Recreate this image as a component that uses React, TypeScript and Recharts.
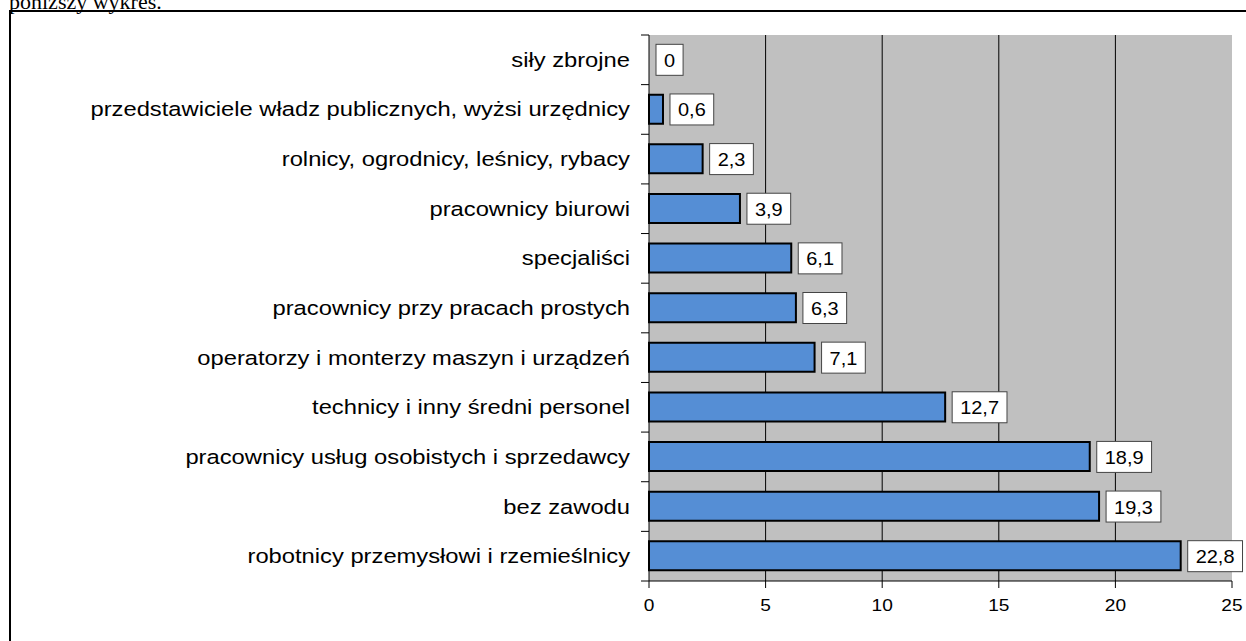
import React from "react";
import { ComposedChart, Bar, Scatter, XAxis, YAxis, CartesianGrid } from "recharts";

const CATEGORIES = [
  "siły zbrojne",
  "przedstawiciele władz publicznych, wyżsi urzędnicy",
  "rolnicy, ogrodnicy, leśnicy, rybacy",
  "pracownicy biurowi",
  "specjaliści",
  "pracownicy przy pracach prostych",
  "operatorzy i monterzy maszyn i urządzeń",
  "technicy i inny średni  personel",
  "pracownicy usług osobistych i sprzedawcy",
  "bez zawodu",
  "robotnicy przemysłowi i rzemieślnicy",
];
const VALUES = [0, 0.6, 2.3, 3.9, 6.1, 6.3, 7.1, 12.7, 18.9, 19.3, 22.8];
const X_TICKS = [0, 5, 10, 15, 20, 25];
const X_DOMAIN = [0, 25];
const GRID_VALUES = [5, 10, 15, 20];

const data = CATEGORIES.map((name, i) => ({ name, value: VALUES[i] }));

const W = 1246;
const H = 641;
const MARGIN = { top: 35, right: 14, bottom: 30, left: 0 };
const Y_AXIS_W = 649;
const X_AXIS_H = 30;
const PLOT_H = H - MARGIN.top - MARGIN.bottom - X_AXIS_H;
const BAND = PLOT_H / CATEGORIES.length;
const FONT = "'Liberation Sans', Arial, sans-serif";

const CatTick = (props: any) => {
  const { y, payload, index } = props;
  const ax = Y_AXIS_W;
  return (
    <g>
      <line x1={ax - 8} x2={ax} y1={y - BAND / 2} y2={y - BAND / 2} stroke="#000" strokeWidth={1} />
      {index === CATEGORIES.length - 1 && (
        <line x1={ax - 8} x2={ax} y1={y + BAND / 2} y2={y + BAND / 2} stroke="#000" strokeWidth={1} />
      )}
      <text
        transform={`translate(${ax - 19},${y + 7}) scale(1.17,1)`}
        textAnchor="end"
        fontSize={20.3}
        fontFamily={FONT}
        fill="#000"
      >
        {payload.value}
      </text>
    </g>
  );
};

const XTick = (props: any) => {
  const { x, y, payload } = props;
  return (
    <text
      transform={`translate(${x},${y + 21}) scale(1.16,1)`}
      textAnchor="middle"
      fontSize={16.5}
      fontFamily={FONT}
      fill="#000"
    >
      {payload.value}
    </text>
  );
};

const ValueBox = (props: any) => {
  const { cx, cy, payload } = props;
  if (cx == null || cy == null) return <g />;
  const txt = String(payload.value).replace(".", ",");
  const fs = 19;
  let tw = 0;
  for (const ch of txt) tw += ch === "," ? 0.278 * fs : 0.556 * fs;
  tw *= 1.05;
  const bw = tw + 16;
  const bh = 31;
  const bx = cx + 7;
  const by = cy - bh / 2;
  return (
    <g>
      <rect x={bx} y={by} width={bw} height={bh} fill="#fff" stroke="#444" strokeWidth={1} />
      <text
        transform={`translate(${bx + bw / 2},${cy + 7}) scale(1.05,1)`}
        textAnchor="middle"
        fontSize={fs}
        fontFamily={FONT}
        fill="#000"
      >
        {txt}
      </text>
    </g>
  );
};

const gridGen = (args: any) => {
  const { xAxis, offset } = args || {};
  return GRID_VALUES.map((v) => {
    const sc = xAxis && xAxis.scale;
    if (typeof sc === "function") return sc(v);
    if (sc && typeof sc.map === "function") return sc.map(v);
    return offset.left + ((v - X_DOMAIN[0]) / (X_DOMAIN[1] - X_DOMAIN[0])) * offset.width;
  });
};

export default function App() {
  return (
    <div style={{ position: "absolute", left: 0, top: 0, width: W, height: H, overflow: "hidden", background: "#fff" }}>
      <div
        style={{
          position: "absolute",
          left: 9,
          top: -9.5,
          fontFamily: "'Liberation Serif', 'Times New Roman', serif",
          fontSize: 22,
          lineHeight: "22px",
          whiteSpace: "nowrap",
          color: "#000",
        }}
      >
        poniższy wykres.
      </div>
      <div
        style={{
          position: "absolute",
          left: 9,
          top: 10,
          width: W,
          height: H,
          borderLeft: "2px solid #000",
          borderTop: "2px solid #000",
        }}
      />
      <div style={{ position: "absolute", left: 0, top: 0 }}>
        <ComposedChart width={W} height={H} data={data} layout="vertical" margin={MARGIN} barSize={29}>
          <CartesianGrid
            fill="#c0c0c0"
            fillOpacity={1}
            horizontal={false}
            stroke="#000"
            strokeWidth={1}
            verticalCoordinatesGenerator={gridGen}
          />
          <XAxis
            type="number"
            domain={X_DOMAIN}
            ticks={X_TICKS}
            interval={0}
            height={X_AXIS_H}
            tickSize={7}
            tickMargin={2}
            axisLine={{ stroke: "#000", strokeWidth: 1 }}
            tickLine={{ stroke: "#000", strokeWidth: 1 }}
            tick={(p: any) => <XTick {...p} />}
          />
          <YAxis
            type="category"
            dataKey="name"
            width={Y_AXIS_W}
            interval={0}
            axisLine={{ stroke: "#000", strokeWidth: 1 }}
            tickLine={false}
            tick={(p: any) => <CatTick {...p} />}
          />
          <Bar dataKey="value" fill="#558ed5" stroke="#000" strokeWidth={2} isAnimationActive={false} />
          <Scatter dataKey="value" isAnimationActive={false} shape={(p: any) => <ValueBox {...p} />} />
        </ComposedChart>
      </div>
    </div>
  );
}
